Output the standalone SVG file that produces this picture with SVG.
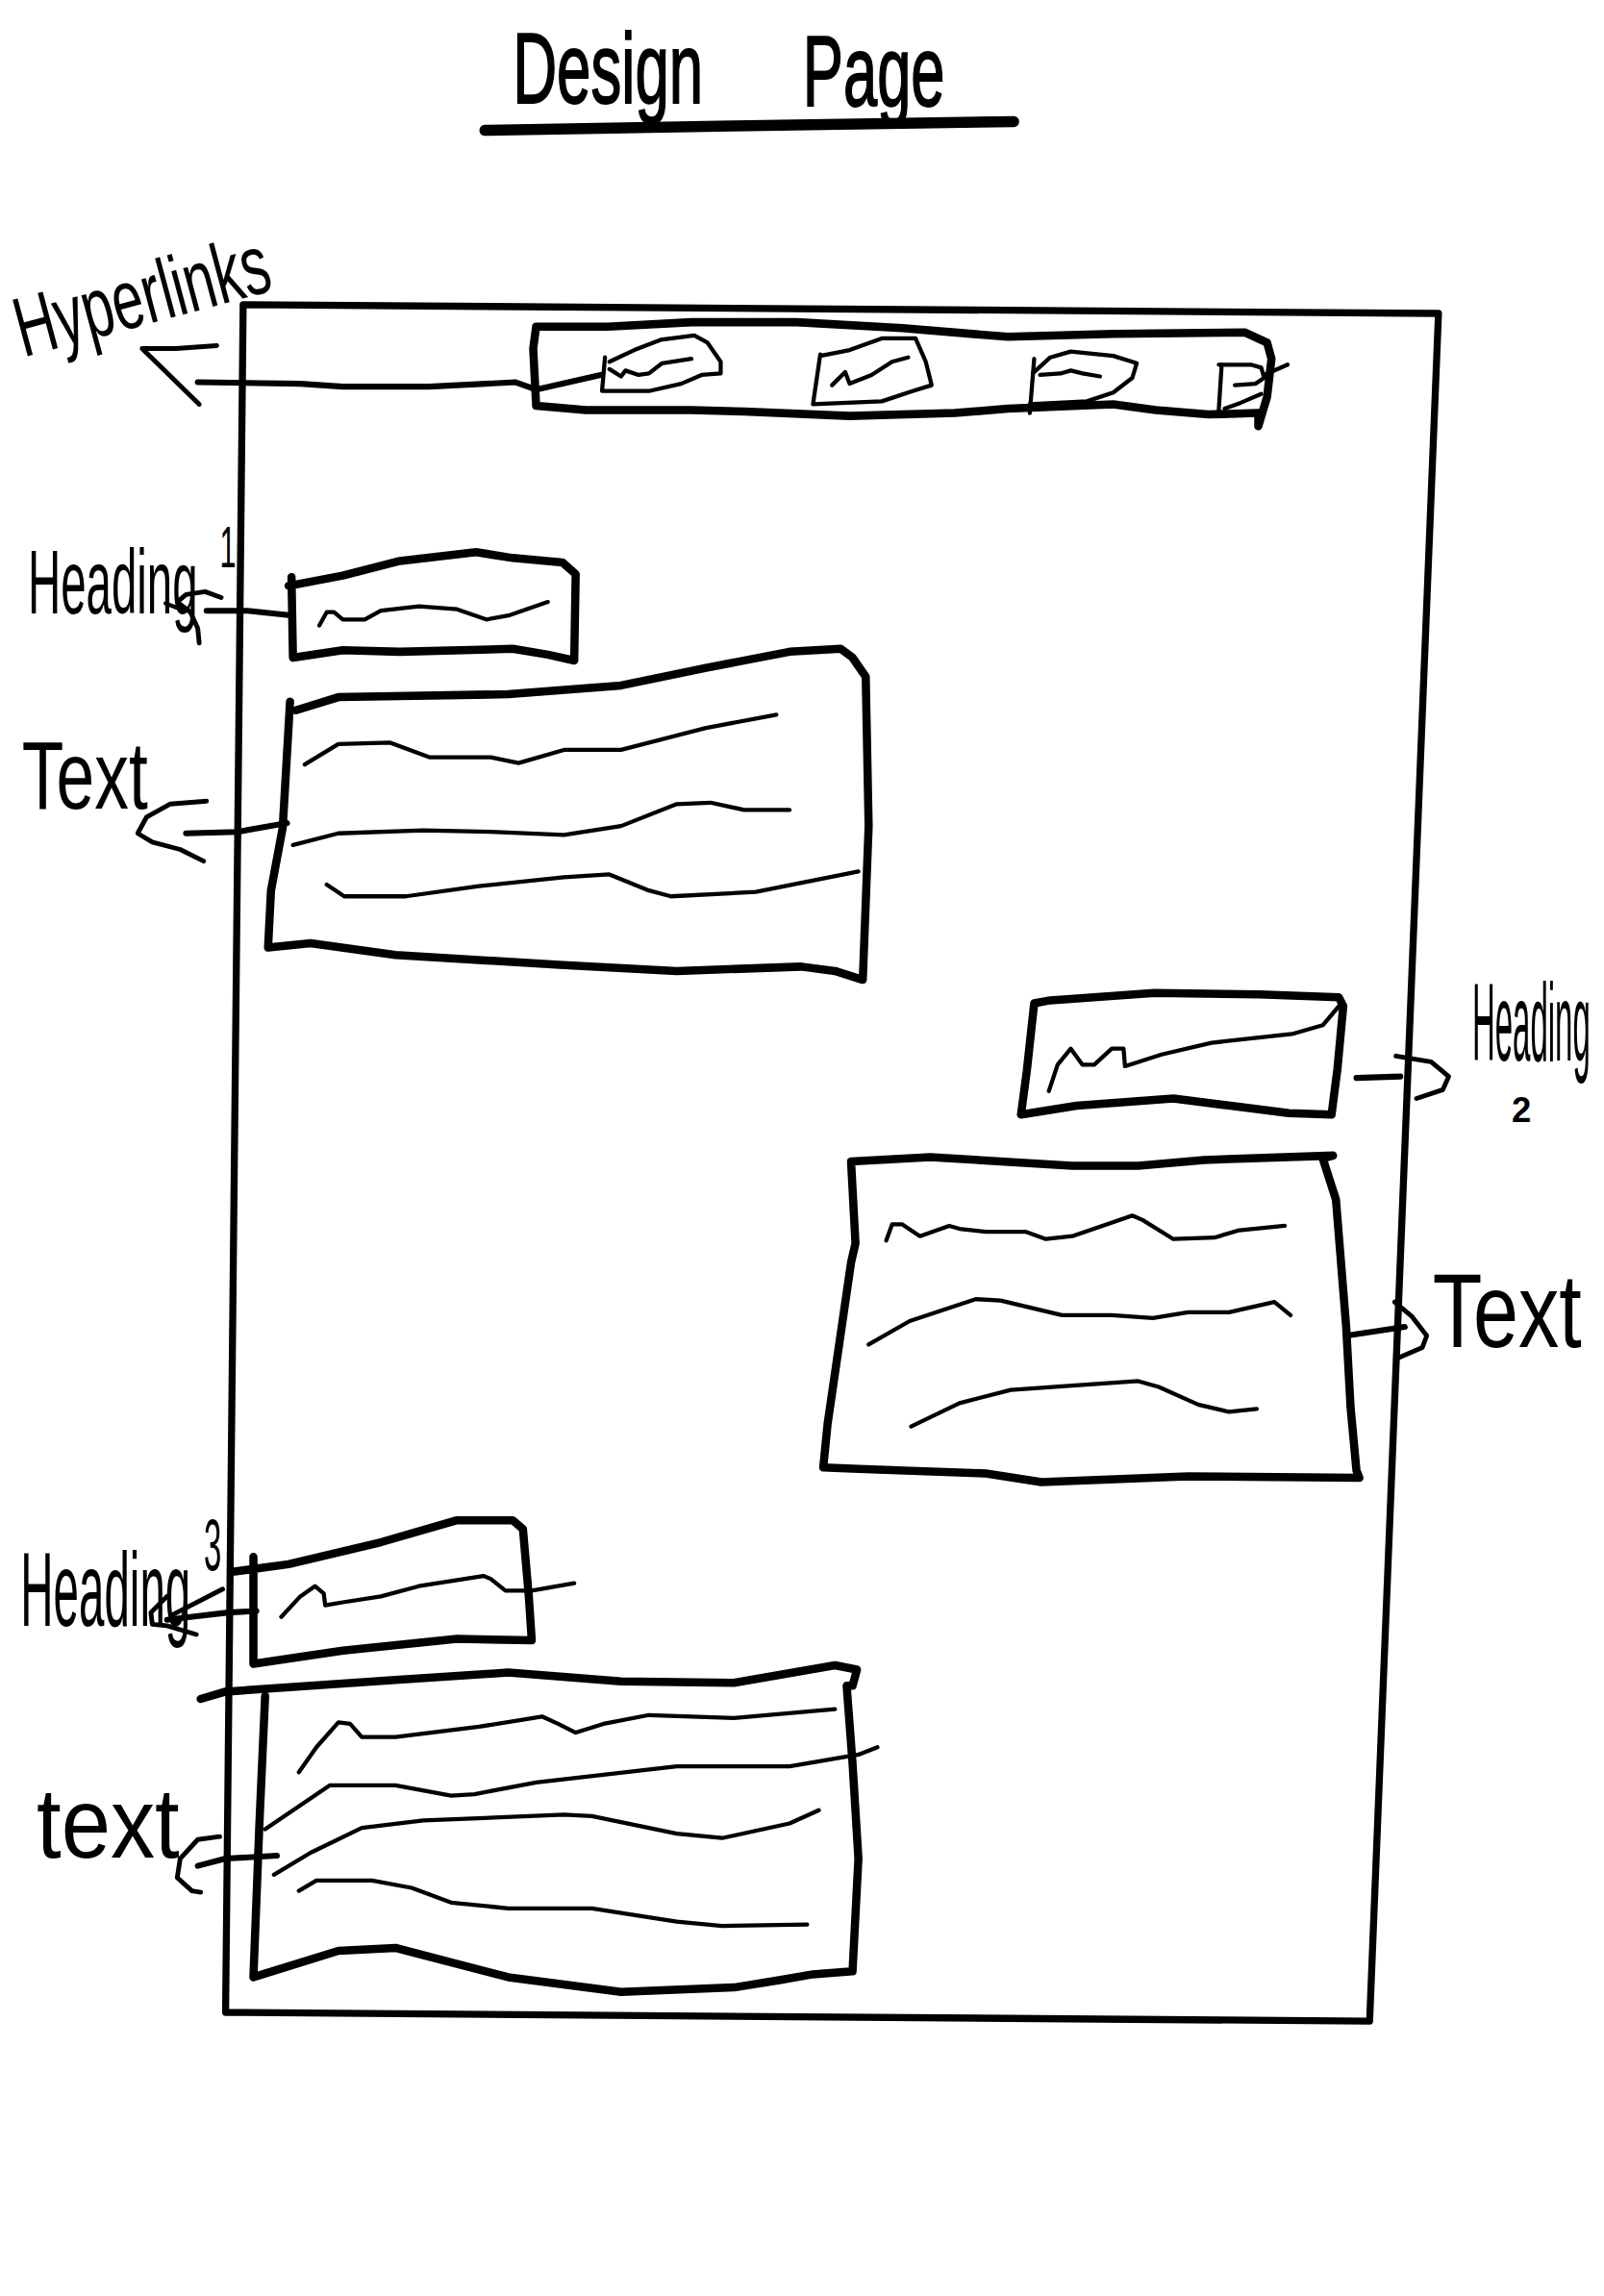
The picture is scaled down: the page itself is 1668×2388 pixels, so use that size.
<svg xmlns="http://www.w3.org/2000/svg" width="1668" height="2388" viewBox="0 0 1668 2388">
  <style>
    .ink { fill: none; stroke: #000; stroke-linecap: round; stroke-linejoin: round; }
    .frame { stroke-width: 4.8; }
    .box { stroke-width: 5.6; }
    .line { stroke-width: 2.8; }
    .conn { stroke-width: 4; }
    .head { stroke-width: 3.2; }
    .hand { font-family: "Liberation Sans", "DejaVu Sans", sans-serif; fill: #000; }
    .title { font-family: "Liberation Sans", "DejaVu Sans", sans-serif; fill: #000; stroke: #000; stroke-width: 1.2; }
  </style>
  <rect x="0" y="0" width="1668" height="2388" fill="#fff"/>
  <!-- sketch drawn on a 1095-wide grid, scaled up to the page -->
  <g transform="scale(1.52329)">

    <g id="title">
      <text class="title" x="350" y="70" font-size="68" textLength="130" lengthAdjust="spacingAndGlyphs">Design</text>
      <text class="title" x="548" y="72" font-size="68" textLength="97" lengthAdjust="spacingAndGlyphs">Page</text>
      <path class="ink" stroke-width="7.5" d="M331,89 L500,86 L692,83"/>
    </g>

    <g id="page-frame">
      <path class="ink frame" d="M166,208 L982,214 L935,1380 L154,1374 Z"/>
    </g>

    <g id="nav-bar">
      <path class="ink box" d="M366,223 L415,223 L472,220 L544,220 L616,224 L688,230 L760,228 L850,227 L865,234 L868,245 L865,271 L859,291 L859,282 L825,283 L789,280 L760,276 L688,279 L652,282 L580,284 L508,281 L472,280 L400,280 L366,277 L364,238 Z"/>
      <g id="nav-link-1">
        <path class="ink line" d="M416,247 L433,239 L451,232 L474,229 L483,234 L492,247 L492,255 L479,256 L465,262 L443,267 L411,267 L413,244"/>
        <path class="ink line" d="M416,252 L424,257 L427,253 L436,256 L443,255 L452,248 L472,245"/>
      </g>
      <g id="nav-link-2">
        <path class="ink line" d="M560,243 L580,239 L602,231 L625,231 L632,247 L636,263 L623,267 L602,274 L555,276 L560,242"/>
        <path class="ink line" d="M568,263 L577,254 L580,262 L595,256 L609,247 L620,244"/>
      </g>
      <g id="nav-link-3">
        <path class="ink line" d="M706,245 L703,282"/>
        <path class="ink line" d="M705,255 L717,244 L731,240 L760,243 L776,248 L773,258 L760,268 L742,274 L703,276"/>
        <path class="ink line" d="M710,256 L724,255 L731,253 L739,255 L751,257"/>
      </g>
      <g id="nav-link-4">
        <path class="ink line" d="M834,249 L832,280"/>
        <path class="ink line" d="M832,249 L854,249 L861,251 L863,258 L857,262 L843,263"/>
        <path class="ink line" d="M836,279 L847,275 L861,269"/>
        <path class="ink line" d="M863,256 L879,249"/>
      </g>
    </g>

    <g id="heading-1">
      <path class="ink box" d="M197,400 L234,393 L273,383 L325,377 L350,381 L384,384 L393,392 L392,451 L374,447 L350,443 L273,445 L234,444 L200,449 L199,394"/>
      <path class="ink line" d="M218,427 L223,418 L228,418 L234,423 L249,423 L260,417 L286,414 L312,416 L332,423 L348,420 L374,411"/>
    </g>

    <g id="text-1">
      <path class="ink box" d="M202,485 L231,476 L347,474 L424,468 L482,456 L539,445 L574,443 L582,449 L591,462 L593,564 L589,669 L570,663 L547,660 L462,663 L385,659 L270,652 L212,644 L183,647 L185,608 L193,565 L198,479"/>
      <path class="ink line" d="M208,522 L231,508 L266,507 L293,517 L335,517 L354,521 L385,512 L424,512 L482,497 L530,488"/>
      <path class="ink line" d="M200,577 L231,569 L289,567 L335,568 L385,570 L424,564 L462,549 L485,548 L508,553 L539,553"/>
      <path class="ink line" d="M223,604 L235,612 L277,612 L327,605 L385,599 L416,597 L443,608 L458,612 L516,609 L586,595"/>
    </g>

    <g id="heading-2">
      <path class="ink box" d="M706,685 L717,683 L788,678 L860,679 L914,681 L917,687 L913,730 L909,761 L880,760 L840,755 L801,750 L735,755 L697,761 L701,731 L706,685"/>
      <path class="ink line" d="M716,745 L722,727 L731,716 L739,727 L747,727 L759,716 L767,716 L768,728 L793,720 L827,712 L882,706 L903,700 L914,687"/>
    </g>

    <g id="text-2">
      <path class="ink box" d="M581,793 L635,790 L732,796 L777,796 L822,792 L910,789 L903,791 L912,819 L919,906 L922,961 L926,1004 L928,1009 L811,1008 L711,1012 L673,1006 L586,1003 L562,1002 L565,972 L581,862 L584,849 L581,793"/>
      <path class="ink line" d="M605,847 L609,836 L616,836 L628,844 L648,837 L655,839 L673,841 L700,841 L714,846 L732,844 L773,830 L780,833 L801,846 L829,845 L846,840 L877,837"/>
      <path class="ink line" d="M593,918 L621,902 L666,887 L683,888 L725,898 L759,898 L787,900 L811,896 L839,896 L870,889 L881,898"/>
      <path class="ink line" d="M622,974 L655,958 L690,949 L732,946 L777,943 L791,947 L818,959 L839,964 L858,962"/>
    </g>

    <g id="heading-3">
      <path class="ink box" d="M160,1073 L197,1068 L260,1053 L312,1038 L350,1038 L357,1044 L361,1090 L363,1120 L312,1119 L234,1127 L173,1136 L173,1063"/>
      <path class="ink line" d="M192,1104 L205,1090 L215,1083 L221,1088 L222,1096 L234,1094 L260,1090 L286,1083 L330,1076 L335,1078 L345,1086 L363,1086 L392,1081"/>
    </g>

    <g id="text-3">
      <path class="ink box" d="M137,1160 L154,1155 L270,1147 L347,1142 L424,1148 L501,1149 L570,1137 L585,1140 L582,1151 L578,1151 L582,1204 L586,1269 L582,1346 L555,1348 L532,1352 L501,1357 L424,1360 L347,1350 L270,1330 L231,1332 L173,1350 L177,1247 L181,1158"/>
      <path class="ink line" d="M204,1210 L216,1193 L231,1176 L239,1177 L247,1186 L270,1186 L327,1179 L370,1172 L381,1177 L393,1183 L412,1177 L443,1171 L501,1173 L570,1167"/>
      <path class="ink line" d="M181,1249 L225,1219 L270,1219 L308,1226 L324,1225 L366,1217 L462,1206 L539,1206 L586,1198 L599,1193"/>
      <path class="ink line" d="M187,1280 L212,1265 L247,1248 L289,1243 L385,1239 L404,1240 L462,1252 L493,1255 L539,1245 L559,1236"/>
      <path class="ink line" d="M204,1291 L216,1284 L254,1284 L281,1289 L308,1299 L347,1303 L404,1303 L462,1312 L493,1315 L551,1314"/>
    </g>

    <!-- hand-lettered labels: narrow strokes come from squeezing the face horizontally -->
    <g id="labels">
      <text class="hand" transform="translate(16,244) rotate(-15) scale(0.657,1)" font-size="58">Hyperlinks</text>
      <text class="hand" transform="translate(19,419) scale(0.502,1)" font-size="62">Heading<tspan x="261" dy="-32" font-size="40">1</tspan></text>
      <text class="hand" transform="translate(15,552) scale(0.71,1)" font-size="66">Text</text>
      <text class="hand" transform="translate(1005,724) scale(0.285,1)" font-size="76">Heading</text>
      <text class="hand" x="1032" y="766" font-size="24" font-weight="bold">2</text>
      <text class="hand" transform="translate(978,920) scale(0.771,1)" font-size="72">Text</text>
      <text class="hand" transform="translate(14,1110) scale(0.433,1)" font-size="72">Heading<tspan x="289" dy="-38" font-size="50">3</tspan></text>
      <text class="hand" transform="translate(25,1268) scale(0.89,1)" font-size="68">text</text>
    </g>

    <g id="connectors">
      <!-- nav bar to "Hyperlinks" -->
      <path class="ink conn" d="M135,261 L205,262 L234,264 L293,264 L352,261 L366,266 L410,256"/>
      <path class="ink head" d="M148,236 L120,238 L97,238 L136,276"/>
      <!-- heading 1 -->
      <path class="ink conn" d="M141,417 L169,417 L197,420"/>
      <path class="ink head" d="M151,408 L140,404 L127,406 L121,411 L130,418 L135,429 L136,439"/>
      <path class="ink line" d="M113,412 L121,415"/>
      <!-- text block 1 -->
      <path class="ink conn" d="M127,569 L162,568 L196,562"/>
      <path class="ink head" d="M141,547 L116,549 L100,558 L94,569 L104,575 L123,580 L139,588"/>
      <!-- heading 2 -->
      <path class="ink conn" d="M926,736 L956,735"/>
      <path class="ink head" d="M953,721 L977,725 L989,735 L985,744 L967,750"/>
      <!-- text block 2 -->
      <path class="ink conn" d="M919,912 L959,906"/>
      <path class="ink head" d="M952,889 L964,899 L974,912 L971,920 L955,927"/>
      <!-- heading 3 -->
      <path class="ink conn" d="M175,1100 L156,1101 L130,1104 L114,1106"/>
      <path class="ink head" d="M152,1085 L117,1103"/>
      <path class="ink head" d="M114,1090 L103,1101 L104,1109 L114,1110 L134,1116"/>
      <!-- text block 3 -->
      <path class="ink conn" d="M135,1274 L154,1269 L189,1267"/>
      <path class="ink head" d="M150,1254 L135,1256 L123,1269 L121,1282 L131,1291 L137,1292"/>
    </g>
  </g>
</svg>
